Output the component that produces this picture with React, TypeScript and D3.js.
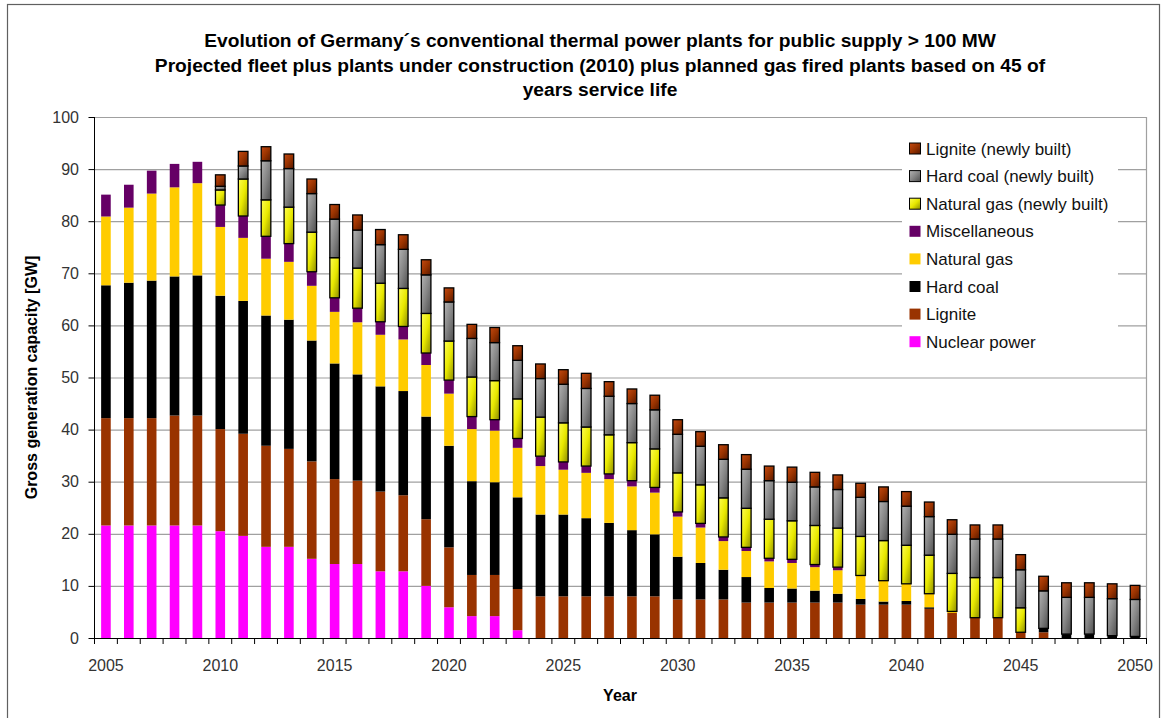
import React from "react";
import * as d3 from "d3";

const years = [
  2005, 2006, 2007, 2008, 2009, 2010, 2011, 2012, 2013, 2014, 2015, 2016,
  2017, 2018, 2019, 2020, 2021, 2022, 2023, 2024, 2025, 2026, 2027, 2028,
  2029, 2030, 2031, 2032, 2033, 2034, 2035, 2036, 2037, 2038, 2039, 2040,
  2041, 2042, 2043, 2044, 2045, 2046, 2047, 2048, 2049, 2050,
];

// GW per year
const nuclear = [
  21.6, 21.6, 21.6, 21.6, 21.6, 20.5, 19.6, 17.5, 17.5, 15.2, 14.2, 14.2,
  12.8, 12.8, 10.0, 5.9, 4.2, 4.2, 1.5, 0, 0, 0, 0, 0, 0, 0, 0, 0, 0, 0, 0,
  0, 0, 0, 0, 0, 0, 0, 0, 0, 0, 0, 0, 0, 0, 0,
];
const lignite = [
  20.6, 20.6, 20.6, 21.1, 21.1, 19.6, 19.6, 19.4, 18.8, 18.7, 16.3, 16.0,
  15.3, 14.6, 12.8, 11.5, 7.9, 7.9, 7.9, 8.0, 8.0, 8.0, 8.0, 8.0, 8.0, 7.4,
  7.4, 7.4, 6.8, 6.8, 6.8, 6.8, 6.8, 6.4, 6.4, 6.4, 5.6, 4.8, 3.9, 3.9, 1.1,
  1.1, 0, 0, 0, 0,
];
const hardCoal = [
  25.5, 26.0, 26.4, 26.7, 26.9, 25.6, 25.5, 25.0, 24.8, 23.2, 22.2, 20.4,
  20.2, 20.0, 19.7, 19.5, 18.0, 17.8, 17.6, 15.7, 15.7, 15.0, 14.1, 12.7,
  11.9, 8.2, 7.0, 5.7, 4.9, 2.8, 2.7, 2.3, 1.7, 1.1, 0.6, 0.7, 0.3, 0, 0, 0,
  0, 0.75, 0.75, 0.75, 0.45, 0.3,
];
const naturalGas = [
  13.2, 14.4, 16.7, 17.1, 17.7, 13.2, 12.1, 10.9, 11.1, 10.5, 9.9, 10.0, 9.9,
  9.9, 9.9, 10.0, 10.0, 9.9, 9.5, 9.3, 8.6, 8.7, 8.4, 8.4, 8.0, 7.7, 6.8,
  5.5, 5.0, 5.1, 4.9, 4.5, 4.5, 4.5, 4.0, 3.3, 2.6, 0.3, 0, 0, 0, 0, 0, 0, 0,
  0,
];
const miscellaneous = [
  4.2, 4.4, 4.4, 4.5, 4.1, 4.2, 4.2, 4.3, 3.5, 2.7, 2.7, 2.7, 2.5, 2.5, 2.3,
  2.6, 2.4, 2.1, 1.8, 1.9, 1.5, 1.3, 1.0, 1.1, 1.0, 0.9, 0.8, 0.8, 0.7, 0.6,
  0.7, 0.5, 0.6, 0, 0, 0, 0, 0, 0, 0, 0, 0, 0, 0, 0, 0,
];
const gasNew = [
  0, 0, 0, 0, 0, 2.9, 7.1, 7.0, 7.0, 7.6, 7.7, 7.7, 7.4, 7.3, 7.6, 7.5, 7.6,
  7.5, 7.6, 7.5, 7.5, 7.5, 7.5, 7.3, 7.4, 7.5, 7.4, 7.5, 7.5, 7.5, 7.4, 7.5,
  7.5, 7.5, 7.7, 7.4, 7.4, 7.3, 7.7, 7.7, 4.7, 0, 0, 0, 0, 0,
];
const hardCoalNew = [
  0, 0, 0, 0, 0, 0.7, 2.5, 7.5, 7.4, 7.4, 7.4, 7.3, 7.4, 7.5, 7.4, 7.5, 7.4,
  7.3, 7.4, 7.4, 7.4, 7.4, 7.4, 7.5, 7.5, 7.4, 7.4, 7.4, 7.5, 7.4, 7.4, 7.4,
  7.4, 7.5, 7.5, 7.5, 7.4, 7.5, 7.4, 7.4, 7.3, 7.2, 7.05, 7.05, 7.1, 7.1,
];
const ligniteNew = [
  0, 0, 0, 0, 0, 2.2, 2.8, 2.7, 2.8, 2.8, 2.8, 2.9, 2.9, 2.8, 2.9, 2.7, 2.7,
  2.9, 2.8, 2.8, 2.8, 2.9, 2.8, 2.8, 2.8, 2.8, 2.8, 2.8, 2.8, 2.8, 2.9, 2.8,
  2.8, 2.7, 2.8, 2.8, 2.8, 2.8, 2.7, 2.7, 2.9, 2.8, 2.8, 2.8, 2.85, 2.7,
];

const yTicks = [0, 10, 20, 30, 40, 50, 60, 70, 80, 90, 100];
const xLabels = [2005, 2010, 2015, 2020, 2025, 2030, 2035, 2040, 2045, 2050];

const series = [
  { key: "nuclear", label: "Nuclear power", values: nuclear, fill: "#ff00ff", isNew: false },
  { key: "lignite", label: "Lignite", values: lignite, fill: "#993300", isNew: false },
  { key: "hardCoal", label: "Hard coal", values: hardCoal, fill: "#000000", isNew: false },
  { key: "naturalGas", label: "Natural gas", values: naturalGas, fill: "#ffcc00", isNew: false },
  { key: "misc", label: "Miscellaneous", values: miscellaneous, fill: "#660066", isNew: false },
  { key: "gasNew", label: "Natural gas (newly built)", values: gasNew, fill: "url(#gYellow)", isNew: true },
  { key: "hardCoalNew", label: "Hard coal (newly built)", values: hardCoalNew, fill: "url(#gGray)", isNew: true },
  { key: "ligniteNew", label: "Lignite (newly built)", values: ligniteNew, fill: "url(#gBrown)", isNew: true },
];

const W = 1161;
const H = 718;
const plot = { left: 94.5, right: 1146.5, top: 117, bottom: 638 };
const font = "'Liberation Sans', Arial, sans-serif";

export default function App() {
  const rows = years.map((y, i) => {
    const r: any = { year: y };
    series.forEach((s) => (r[s.key] = s.values[i]));
    return r;
  });
  const stacked = d3.stack().keys(series.map((s) => s.key))(rows);

  const x = d3
    .scaleBand<number>()
    .domain(years)
    .range([plot.left, plot.right])
    .paddingInner(0.58)
    .paddingOuter(0.29);
  const y = d3.scaleLinear().domain([0, 100]).range([plot.bottom, plot.top]);
  const step = x.step();

  const legendRows = series.slice().reverse();

  return (
    <svg width={W} height={H} style={{ position: "absolute", left: 0, top: 0 }}>
      <defs>
        <linearGradient id="gYellow" x1="0" y1="0" x2="1" y2="1">
          <stop offset="0" stopColor="#ffff50" />
          <stop offset="0.5" stopColor="#e8e800" />
          <stop offset="1" stopColor="#8c8c00" />
        </linearGradient>
        <linearGradient id="gGray" x1="0" y1="0" x2="1" y2="1">
          <stop offset="0" stopColor="#b4b4b4" />
          <stop offset="0.5" stopColor="#858585" />
          <stop offset="1" stopColor="#4e4e4e" />
        </linearGradient>
        <linearGradient id="gBrown" x1="0" y1="0" x2="1" y2="1">
          <stop offset="0" stopColor="#c44a12" />
          <stop offset="0.5" stopColor="#993300" />
          <stop offset="1" stopColor="#561800" />
        </linearGradient>
      </defs>
      <rect x={0} y={0} width={W} height={H} fill="#fff" />
      {/* outer chart frame */}
      <rect x={7.5} y={4.5} width={1152} height={730} fill="none" stroke="#606060" strokeWidth={1.2} />

      {/* title */}
      <g fontFamily={font} fontWeight="bold" fontSize={19.2} textAnchor="middle" fill="#000">
        <text x={600} y={47}>Evolution of Germany´s conventional thermal power plants for public supply &gt; 100 MW</text>
        <text x={600} y={72}>Projected fleet plus plants under construction (2010) plus planned gas fired plants based on 45 of</text>
        <text x={600} y={96}>years service life</text>
      </g>

      {/* gridlines */}
      {yTicks.map((t) => (
        <line key={t} x1={plot.left} x2={plot.right} y1={y(t) + 0.5} y2={y(t) + 0.5}
          stroke={t === 0 ? "none" : "#a0a0a0"} strokeWidth={1.2} />
      ))}
      <line x1={plot.right} x2={plot.right} y1={plot.top} y2={plot.bottom} stroke="#a0a0a0" strokeWidth={1.2} />

      {/* bars */}
      {stacked.map((layer, li) => {
        const s = series[li];
        return (
          <g key={s.key}>
            {layer.map((d, i) => {
              const h = y(d[0]) - y(d[1]);
              if (h <= 0.05) return null;
              return (
                <rect key={i} x={x(years[i])!} y={y(d[1])} width={x.bandwidth()} height={h}
                  fill={s.fill} stroke={s.isNew ? "#000" : "none"} strokeWidth={s.isNew ? 1.3 : 0} />
              );
            })}
          </g>
        );
      })}

      {/* y axis */}
      <line x1={plot.left} x2={plot.left} y1={plot.top} y2={plot.bottom} stroke="#000" />
      {yTicks.map((t) => (
        <g key={t}>
          <line x1={plot.left - 6} x2={plot.left} y1={y(t) + 0.5} y2={y(t) + 0.5} stroke="#000" />
          <text x={79} y={y(t) + 5.5} textAnchor="end" fontFamily={font} fontSize={16} fill="#333">{t}</text>
        </g>
      ))}

      {/* x axis */}
      <line x1={plot.left} x2={plot.right} y1={plot.bottom + 0.5} y2={plot.bottom + 0.5} stroke="#000" />
      {years.concat([years[years.length - 1] + 1]).map((yr, i) => (
        <line key={yr} x1={plot.left + i * step} x2={plot.left + i * step} y1={plot.bottom} y2={plot.bottom + 6} stroke="#000" />
      ))}
      {xLabels.map((yr) => (
        <text key={yr} x={x(yr)! + x.bandwidth() / 2} y={671} textAnchor="middle" fontFamily={font} fontSize={16} fill="#333">{yr}</text>
      ))}

      {/* axis titles */}
      <text x={620} y={701} textAnchor="middle" fontFamily={font} fontWeight="bold" fontSize={16}>Year</text>
      <text transform={`translate(37,${(plot.top + plot.bottom) / 2}) rotate(-90)`} textAnchor="middle"
        fontFamily={font} fontWeight="bold" fontSize={16}>Gross generation capacity [GW]</text>

      {/* legend */}
      <rect x={902} y={137} width={216} height={219} fill="#fff" />
      {legendRows.map((s, i) => {
        const cy = 148.5 + i * 27.6;
        return (
          <g key={s.key}>
            <rect x={909.5} y={cy - 5.5} width={11} height={11} fill={s.fill}
              stroke={s.isNew ? "#000" : "none"} strokeWidth={1} />
            <text x={926} y={cy + 6} fontFamily={font} fontSize={17} fill="#111">{s.label}</text>
          </g>
        );
      })}
    </svg>
  );
}
